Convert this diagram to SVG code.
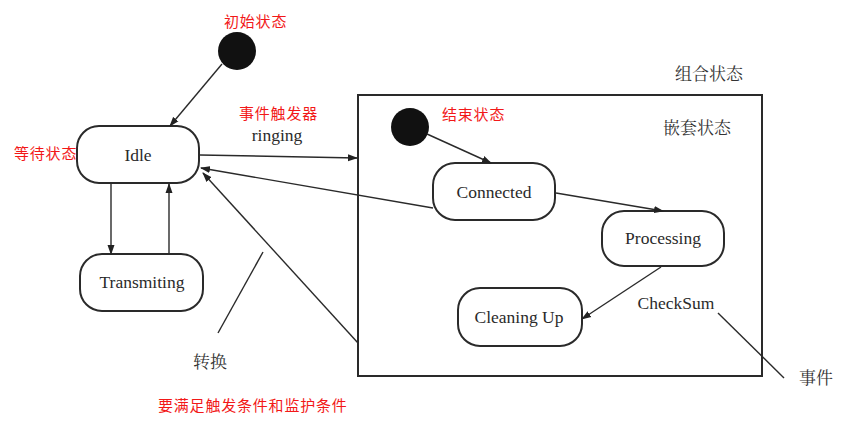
<svg xmlns="http://www.w3.org/2000/svg" width="847" height="423" viewBox="0 0 847 423">
<defs>
<marker id="ah" markerWidth="10" markerHeight="8" refX="9" refY="4" orient="auto" markerUnits="userSpaceOnUse">
<path d="M0,0.5 L10,4 L0,7.5 Z" fill="#222"/>
</marker>
<style>
.st{fill:#fff;stroke:#2a2a2a;stroke-width:2}
.en{font-family:"Liberation Serif",serif;font-size:17.5px;fill:#2a2a2a;text-anchor:middle}
.cn{font-family:"Noto Serif CJK SC","Noto Sans CJK SC",serif;font-size:17px;fill:#333}
.red{font-family:"Noto Sans CJK SC",sans-serif;font-size:15px;fill:#f21818;letter-spacing:0.8px}
.ln{fill:none;stroke:#2a2a2a;stroke-width:1.4}
.ar{fill:none;stroke:#2a2a2a;stroke-width:1.4;marker-end:url(#ah)}
.dot{fill:#111}
</style>
</defs>
<rect width="847" height="423" fill="#fff"/>

<g id="composite">
<rect x="358" y="95" width="404" height="281" fill="none" stroke="#2a2a2a" stroke-width="2"/>
<text class="cn" x="675" y="80">组合状态</text>
<text class="cn" x="663" y="134">嵌套状态</text>
</g>

<g id="initial">
<circle class="dot" cx="237" cy="51" r="19"/>
</g>
<g id="final">
<circle class="dot" cx="410" cy="127" r="19"/>
</g>

<g id="idle">
<rect class="st" x="77" y="126" width="122" height="57" rx="22"/>
<text class="en" x="138" y="161">Idle</text>
</g>
<g id="transmiting">
<rect class="st" x="80" y="254" width="123" height="57" rx="22"/>
<text class="en" x="142" y="288">Transmiting</text>
</g>
<g id="connected">
<rect class="st" x="433" y="163" width="122" height="57" rx="22"/>
<text class="en" x="494" y="198">Connected</text>
</g>
<g id="processing">
<rect class="st" x="602" y="211" width="122" height="55" rx="22"/>
<text class="en" x="663" y="244">Processing</text>
</g>
<g id="cleaning">
<rect class="st" x="458" y="288" width="124" height="58" rx="22"/>
<text class="en" x="519" y="323">Cleaning Up</text>
</g>

<g id="connectors">
<line class="ar" x1="222" y1="64" x2="170" y2="126"/>
<line class="ar" x1="200" y1="155" x2="357" y2="158"/>
<line class="ar" x1="433" y1="208" x2="201" y2="168"/>
<line class="ar" x1="358" y1="343" x2="203" y2="173"/>
<line class="ar" x1="111" y1="183" x2="111" y2="254"/>
<line class="ar" x1="169" y1="254" x2="169" y2="184"/>
<line class="ar" x1="427" y1="134" x2="491" y2="163"/>
<line class="ar" x1="556" y1="193" x2="663" y2="211"/>
<line class="ar" x1="661" y1="267" x2="582" y2="319"/>
<line class="ln" x1="263" y1="252" x2="218" y2="333"/>
<line class="ln" x1="718" y1="313" x2="784" y2="378"/>
</g>

<g id="labels">
<text class="red" x="224" y="27">初始状态</text>
<text class="red" x="14" y="159">等待状态</text>
<text class="red" x="239" y="119">事件触发器</text>
<text class="en" x="277" y="141">ringing</text>
<text class="red" x="442" y="120">结束状态</text>
<text class="en" x="676" y="309">CheckSum</text>
<text class="cn" x="799" y="384">事件</text>
<text class="cn" x="193" y="368">转换</text>
<text class="red" x="158" y="411">要满足触发条件和监护条件</text>
</g>
</svg>
